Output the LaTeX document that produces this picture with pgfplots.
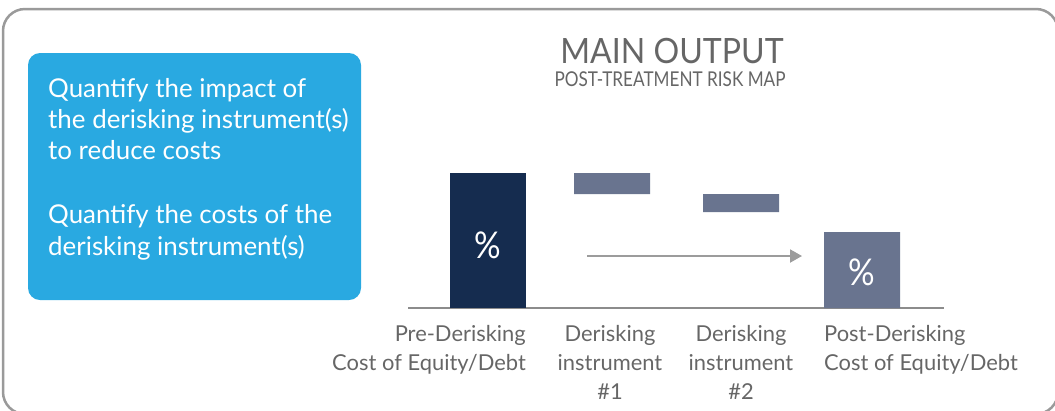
\documentclass[border=0pt]{standalone}
\usepackage{fontspec}
\setmainfont{Lato}
\usepackage{graphicx}
\usepackage{pgfplots}
\pgfplotsset{compat=1.18}
\usetikzlibrary{arrows.meta}

\definecolor{framegray}{HTML}{9A9A9A}
\definecolor{boxblue}{HTML}{29A9E1}
\definecolor{navy}{HTML}{152C4F}
\definecolor{slate}{HTML}{69748F}
\definecolor{txtgray}{HTML}{666666}
\definecolor{axgray}{HTML}{8C8C8C}
\definecolor{arrowgray}{HTML}{9C9C9C}

\begin{document}
\begin{tikzpicture}
\begin{scope}[x=1bp,y=-1bp]
  \useasboundingbox (0,0) rectangle (1055,410);
  \clip (0,0) rectangle (1055,410);
  \draw[framegray, line width=2.5bp, rounded corners=22bp] (3,9) rectangle (1058,414);
  \fill[boxblue, rounded corners=12bp] (28,53) rectangle (361,300);
  \begin{scope}[every node/.style={anchor=base west, inner sep=0, text=white,
      font=\fontsize{26}{30}\selectfont}]
    \node at (48,97)  {Quantify the impact of};
    \node at (48,128) {the derisking instrument(s)};
    \node at (48,159) {to reduce costs};
    \node at (48,223) {Quantify the costs of the};
    \node at (48,255) {derisking instrument(s)};
  \end{scope}
  \node[anchor=base, inner sep=0, text=txtgray, font=\fontsize{35}{40}\selectfont] at (672,63) {\scalebox{0.92}[1]{MAIN OUTPUT}};
  \node[anchor=base, inner sep=0, text=txtgray, font=\fontsize{20.5}{24}\selectfont] at (670,86) {\scalebox{0.84}[1]{POST-TREATMENT RISK MAP}};
  % category labels
  \begin{scope}[every node/.style={inner sep=0, text=txtgray, font=\fontsize{22}{26}\selectfont}]
    \node[anchor=base east] at (526,341) {Pre-Derisking};
    \node[anchor=base east] at (526,370) {Cost of Equity/Debt};
    \node[anchor=base] at (610,341) {Derisking};
    \node[anchor=base] at (610,370) {instrument};
    \node[anchor=base] at (610,399) {\#1};
    \node[anchor=base] at (741,341) {Derisking};
    \node[anchor=base] at (741,370) {instrument};
    \node[anchor=base] at (741,399) {\#2};
    \node[anchor=base west] at (824,341) {Post-Derisking};
    \node[anchor=base west] at (824,370) {Cost of Equity/Debt};
  \end{scope}
  \draw[arrowgray, line width=2bp, -{Triangle[length=12bp,width=13bp]}] (587,256) -- (802,256);
\end{scope}

\begin{axis}[
  at={(408bp,-308bp)}, anchor=origin,
  scale only axis,
  x=1bp, y=13.5bp,
  xmin=0, xmax=536, ymin=0, ymax=11,
  ybar stacked, bar width=76,
  axis x line=bottom, axis y line=none,
  xtick=\empty, ytick=\empty,
  axis line style={-, draw=axgray, line width=2.5bp},
  clip=false
]
\addplot[fill=none, draw=none] coordinates {(80,0) (204,8.444) (333,7.111) (454,0)};
\addplot[fill=navy, draw=none] coordinates {(80,10) (204,0) (333,0) (454,0)};
\addplot[fill=slate, draw=none] coordinates {(80,0) (204,1.556) (333,1.333) (454,5.630)};
\end{axis}

\begin{scope}[x=1bp,y=-1bp]
  \node[text=white, inner sep=0, font=\fontsize{37}{40}\selectfont] at (488,245) {\scalebox{0.9}[1]{\%}};
  \node[text=white, inner sep=0, font=\fontsize{37}{40}\selectfont] at (862,272) {\scalebox{0.9}[1]{\%}};
\end{scope}
\end{tikzpicture}
\end{document}
